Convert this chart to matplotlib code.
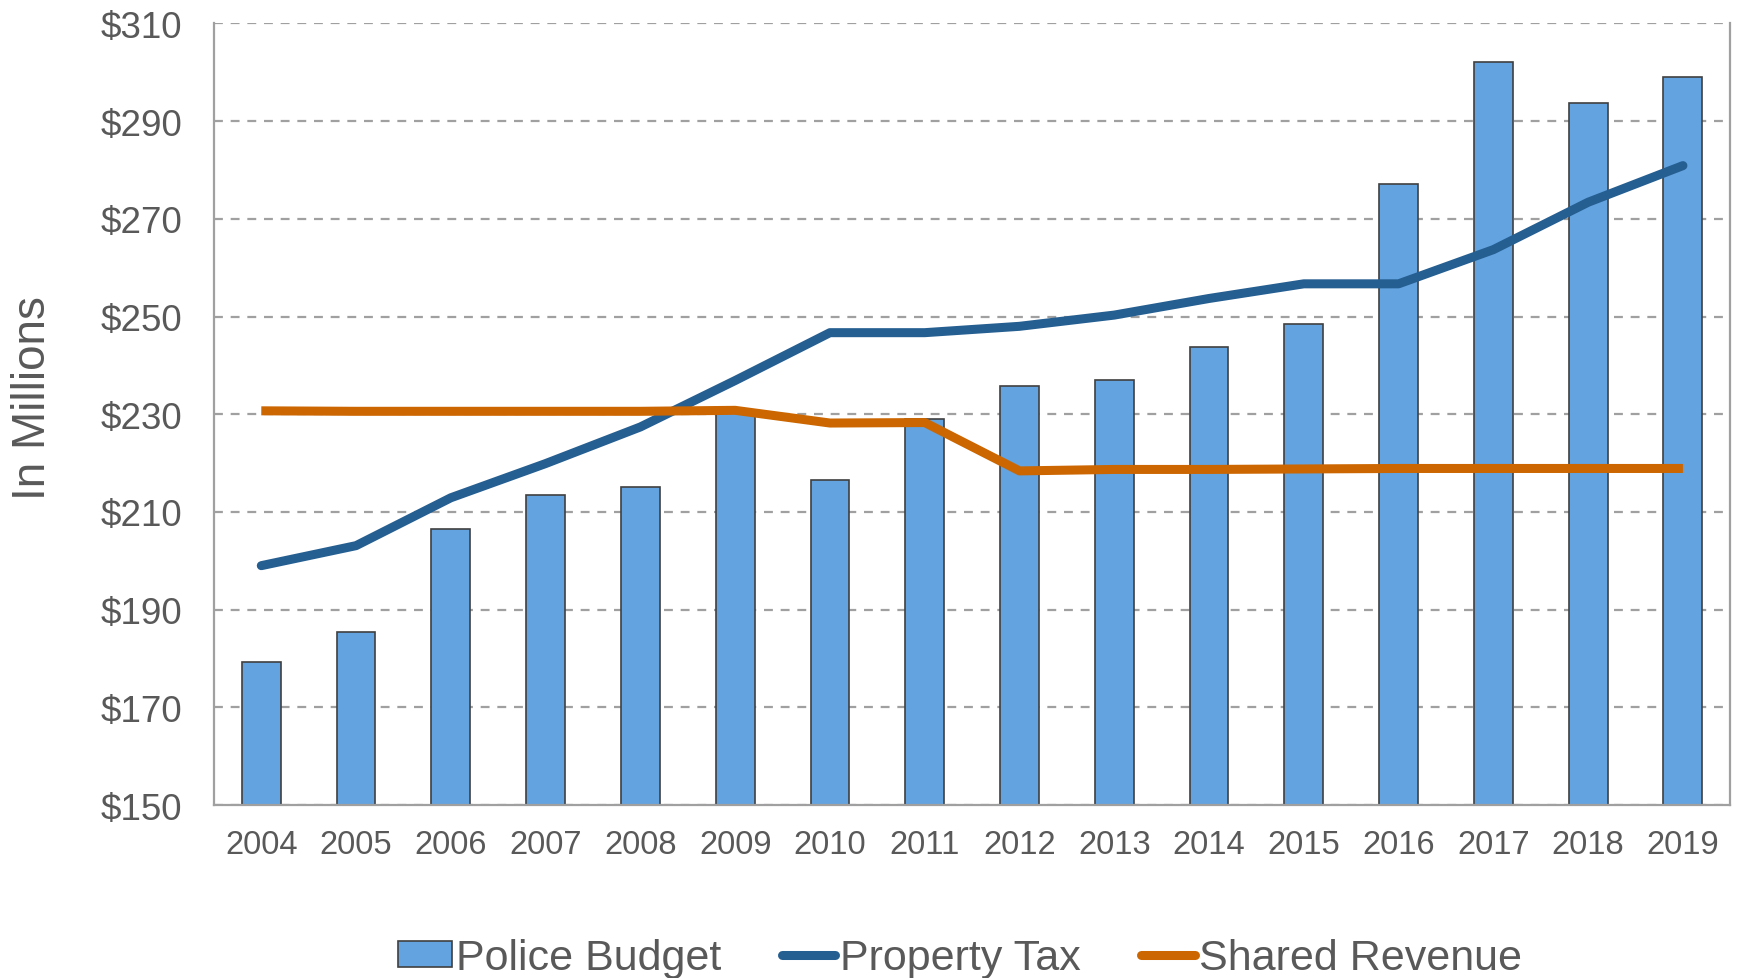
import matplotlib
matplotlib.use("Agg")
import matplotlib.pyplot as plt
from matplotlib.patches import Patch
from matplotlib.lines import Line2D
import numpy as np

years = ["2004", "2005", "2006", "2007", "2008", "2009", "2010", "2011",
         "2012", "2013", "2014", "2015", "2016", "2017", "2018", "2019"]
police_budget = [179.3, 185.4, 206.5, 213.5, 215.1, 230.5, 216.6, 229.1,
                 235.8, 237.1, 243.7, 248.5, 277.1, 302.1, 293.7, 299.0]
property_tax = [199.0, 203.1, 212.9, 219.9, 227.4, 236.9, 246.7, 246.7,
                248.0, 250.3, 253.7, 256.7, 256.7, 263.7, 273.4, 280.9]
shared_revenue = [230.7, 230.6, 230.6, 230.6, 230.6, 230.8, 228.2, 228.3,
                  218.4, 218.7, 218.7, 218.8, 218.9, 218.9, 218.9, 218.9]
yticks = [150, 170, 190, 210, 230, 250, 270, 290, 310]

plt.rcParams['font.family'] = ['Liberation Sans', 'DejaVu Sans']
text_color = '#595959'
bar_color = '#62A3E0'
tax_color = '#255E91'
rev_color = '#CC6600'
grid_color = '#A0A0A0'

fig = plt.figure(figsize=(17.39, 9.79), dpi=100)
ax = fig.add_axes([0.123, 0.1767, 0.872, 0.7983])

x = np.arange(len(years))
ax.bar(x, [v - 150 for v in police_budget], bottom=150, width=0.41,
       color=bar_color, edgecolor='#404040', linewidth=1.2, zorder=2)
ax.plot(x, property_tax, color=tax_color, linewidth=6.5,
        solid_capstyle='round', solid_joinstyle='round', zorder=3)
ax.plot(x, shared_revenue, color=rev_color, linewidth=6.5,
        solid_capstyle='butt', solid_joinstyle='round', zorder=3)

ax.set_xlim(-0.5, len(years) - 0.5)
ax.set_ylim(150, 310)
ax.set_yticks(yticks)
ax.set_yticklabels([f"${v}" for v in yticks])
ax.set_xticks(x)
ax.set_xticklabels(years)

ax.yaxis.grid(True, linestyle=(0, (4, 3.5)), color=grid_color, linewidth=1.6, zorder=0)
ax.set_axisbelow(True)

for s in ['left', 'bottom', 'right']:
    ax.spines[s].set_color(grid_color)
    ax.spines[s].set_linewidth(1.6)
ax.spines['top'].set_visible(False)

ax.tick_params(axis='y', length=0, pad=23, labelsize=26.5, labelcolor=text_color)
ax.tick_params(axis='x', length=0, pad=17, labelsize=23.5, labelcolor=text_color)

fig.text(0.019, 0.593, "In Millions", rotation=90, ha='center', va='center',
         fontsize=33, color=text_color)

handles = [
    Patch(facecolor=bar_color, edgecolor='#404040', linewidth=1.2),
    Line2D([0], [0], color=tax_color, linewidth=6.5, solid_capstyle='round'),
    Line2D([0], [0], color=rev_color, linewidth=6.5, solid_capstyle='round'),
]
labels = ["Police Budget", "Property Tax", "Shared Revenue"]
fig.legend(handles, labels, loc='center', bbox_to_anchor=(0.552, 0.02),
           ncol=3, frameon=False, fontsize=31, labelcolor=text_color,
           handlelength=1.25, handletextpad=0.1, columnspacing=1.4,
           handleheight=0.55)

fig.savefig("out.png", dpi=100)
